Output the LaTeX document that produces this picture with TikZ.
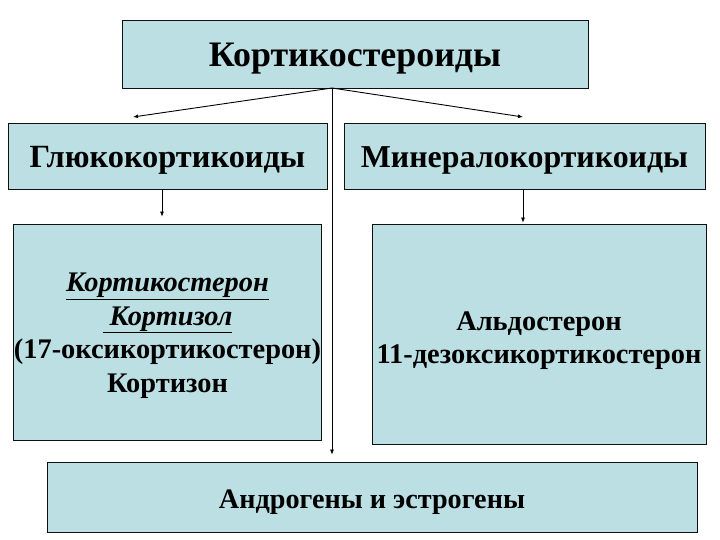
\documentclass[tikz,border=0pt]{standalone}
\usepackage{fontspec}
\setmainfont{Liberation Serif}
\usepackage{tikz}
\usepackage{xcolor}
\usetikzlibrary{arrows.meta,positioning,calc}
\definecolor{panel}{HTML}{BCDFE3}
\definecolor{ink}{HTML}{101010}

\begin{document}
\begin{tikzpicture}[x=1bp,y=-1bp,font=\bfseries,>={Latex[length=5bp,width=4bp]},
    box/.style={draw=ink,fill=panel,line width=0.9bp,inner sep=0pt,align=center,text depth=0bp}]
  \useasboundingbox (0,0) rectangle (720,540);
  \node[box,minimum width=466bp,minimum height=68bp,text height=26bp,
        font=\bfseries\fontsize{36}{40}\selectfont]
    (top) at (355,54) {Кортикостероиды};
  \node[box,minimum width=319bp,minimum height=66bp,text height=24bp,
        font=\bfseries\fontsize{32.5}{36}\selectfont]
    (gluco) at (167.5,156) {Глюкокортикоиды};
  \node[box,minimum width=361bp,minimum height=66bp,text height=24bp,
        font=\bfseries\fontsize{32}{36}\selectfont]
    (mineral) at (524.5,156) {Минералокортикоиды};
  \node[box,minimum width=307bp,minimum height=216bp,text height=120bp,
        font=\bfseries\fontsize{28.5}{33.5}\selectfont]
    (glulist) at (167.5,332)
    {\textit{\underline{Кортикостерон}}\\ \textit{\underline{ Кортизол}}\\
     (17-оксикортикостерон)\\ Кортизон};
  \node[box,minimum width=334bp,minimum height=220bp,text height=58bp,
        font=\bfseries\fontsize{28.5}{33}\selectfont]
    (minlist) at (539,334) {Альдостерон\\ 11-дезоксикортикостерон};
  \node[box,minimum width=650bp,minimum height=70bp,text height=22bp,
        font=\bfseries\fontsize{28.3}{33}\selectfont]
    (sex) at (372,497) {Андрогены и эстрогены};

  \coordinate (hub) at (332,88);
  \coordinate (lefttip) at (133,117);
  \coordinate (righttip) at (523,117);
  \draw[->,line width=0.9bp] (hub) -- (lefttip);
  \draw[->,line width=0.9bp] (hub) -- (righttip);
  \draw[->,line width=0.6bp,shorten >=7bp] (hub) -- (hub |- sex.north);
  \draw[->,line width=0.6bp,shorten >=7bp] (gluco.south -| 162,0) -- (glulist.north -| 162,0);
  \draw[->,line width=0.6bp,shorten >=1bp] (mineral.south -| 523,0) -- (minlist.north -| 523,0);
\end{tikzpicture}
\end{document}
